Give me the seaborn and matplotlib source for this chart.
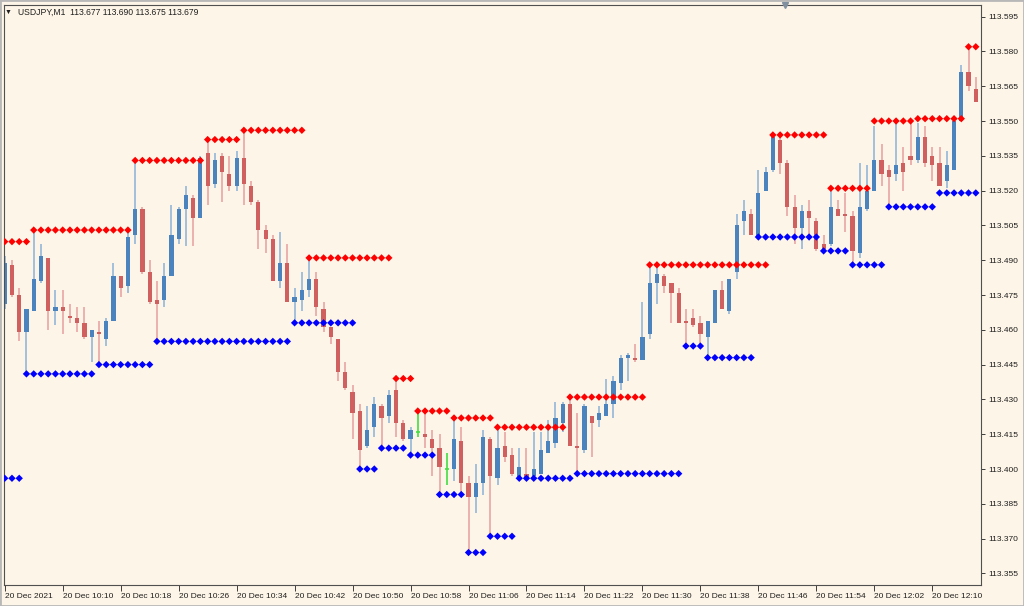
import numpy as np
import pandas as pd
import seaborn as sns
import matplotlib.pyplot as plt
from matplotlib.patches import Rectangle

sns.set_style("white")
plt.rcParams['font.family'] = ['Liberation Sans', 'DejaVu Sans']

# === USDJPY M1 candles, 20 Dec 2021 from 10:02 ===
open_ = [113.471, 113.488, 113.475, 113.459, 113.468, 113.481, 113.491, 113.468, 113.470, 113.466,
         113.465, 113.463, 113.457, 113.459, 113.456, 113.464, 113.483, 113.479, 113.501, 113.512,
         113.485, 113.473, 113.473, 113.483, 113.499, 113.512, 113.517, 113.508, 113.536, 113.523,
         113.535, 113.527, 113.522, 113.534, 113.522, 113.515, 113.503, 113.499, 113.481, 113.489,
         113.472, 113.473, 113.477, 113.482, 113.469, 113.461, 113.456, 113.442, 113.433, 113.425,
         113.410, 113.418, 113.427, 113.423, 113.434, 113.420, 113.413, 113.416, 113.415, 113.413,
         113.409, 113.400, 113.400, 113.412, 113.394, 113.388, 113.394, 113.413, 113.396, 113.410,
         113.406, 113.396, 113.398, 113.397, 113.398, 113.407, 113.411, 113.420, 113.428, 113.410,
         113.408, 113.423, 113.421, 113.423, 113.428, 113.437, 113.448, 113.448, 113.447, 113.458,
         113.480, 113.483, 113.480, 113.476, 113.464, 113.465, 113.463, 113.457, 113.463, 113.477,
         113.468, 113.485, 113.507, 113.510, 113.500, 113.520, 113.529, 113.542, 113.532, 113.513,
         113.504, 113.511, 113.507, 113.497, 113.497, 113.512, 113.510, 113.509, 113.493, 113.512,
         113.520, 113.533, 113.529, 113.527, 113.532, 113.535, 113.533, 113.543, 113.535, 113.532,
         113.524, 113.529, 113.550, 113.571, 113.564]
high = [113.492, 113.490, 113.478, 113.469, 113.503, 113.497, 113.491, 113.477, 113.477, 113.471,
        113.470, 113.470, 113.460, 113.464, 113.465, 113.489, 113.483, 113.502, 113.533, 113.513,
        113.490, 113.481, 113.489, 113.514, 113.513, 113.522, 113.518, 113.535, 113.542, 113.536,
        113.536, 113.535, 113.537, 113.546, 113.524, 113.516, 113.505, 113.501, 113.502, 113.497,
        113.478, 113.485, 113.491, 113.485, 113.472, 113.461, 113.456, 113.446, 113.436, 113.428,
        113.427, 113.431, 113.428, 113.434, 113.439, 113.421, 113.418, 113.425, 113.424, 113.417,
        113.415, 113.407, 113.422, 113.418, 113.397, 113.402, 113.417, 113.414, 113.418, 113.416,
        113.409, 113.409, 113.409, 113.416, 113.416, 113.421, 113.429, 113.429, 113.431, 113.424,
        113.428, 113.423, 113.427, 113.439, 113.440, 113.449, 113.450, 113.454, 113.472, 113.488,
        113.487, 113.484, 113.480, 113.478, 113.469, 113.469, 113.466, 113.464, 113.477, 113.481,
        113.482, 113.510, 113.516, 113.512, 113.529, 113.530, 113.544, 113.543, 113.533, 113.518,
        113.514, 113.516, 113.508, 113.501, 113.521, 113.516, 113.519, 113.511, 113.532, 113.531,
        113.548, 113.540, 113.531, 113.550, 113.539, 113.550, 113.549, 113.548, 113.539, 113.539,
        113.537, 113.552, 113.574, 113.582, 113.569]
low = [113.469, 113.474, 113.455, 113.441, 113.468, 113.480, 113.460, 113.462, 113.458, 113.463,
       113.459, 113.456, 113.446, 113.445, 113.453, 113.464, 113.474, 113.476, 113.497, 113.484,
       113.471, 113.455, 113.470, 113.483, 113.497, 113.496, 113.496, 113.508, 113.514, 113.521,
       113.515, 113.520, 113.520, 113.514, 113.514, 113.495, 113.493, 113.481, 113.478, 113.472,
       113.463, 113.468, 113.474, 113.466, 113.459, 113.454, 113.438, 113.434, 113.413, 113.400,
       113.409, 113.414, 113.410, 113.420, 113.414, 113.412, 113.406, 113.414, 113.409, 113.397,
       113.389, 113.393, 113.395, 113.390, 113.364, 113.381, 113.389, 113.371, 113.393, 113.403,
       113.397, 113.396, 113.396, 113.396, 113.398, 113.407, 113.409, 113.416, 113.410, 113.398,
       113.407, 113.405, 113.418, 113.423, 113.422, 113.434, 113.438, 113.446, 113.447, 113.456,
       113.471, 113.476, 113.463, 113.463, 113.453, 113.461, 113.453, 113.448, 113.463, 113.469,
       113.467, 113.482, 113.501, 113.501, 113.500, 113.520, 113.528, 113.527, 113.509, 113.497,
       113.495, 113.500, 113.494, 113.494, 113.496, 113.509, 113.502, 113.488, 113.491, 113.511,
       113.520, 113.522, 113.513, 113.524, 113.520, 113.531, 113.532, 113.530, 113.524, 113.522,
       113.521, 113.529, 113.550, 113.563, 113.558]
close = [113.489, 113.475, 113.459, 113.469, 113.482, 113.492, 113.468, 113.470, 113.468, 113.465,
         113.463, 113.457, 113.460, 113.458, 113.464, 113.483, 113.478, 113.500, 113.512, 113.485,
         113.472, 113.471, 113.483, 113.501, 113.512, 113.518, 113.508, 113.534, 113.522, 113.533,
         113.528, 113.522, 113.534, 113.523, 113.515, 113.503, 113.499, 113.481, 113.489, 113.472,
         113.474, 113.477, 113.482, 113.470, 113.461, 113.457, 113.442, 113.435, 113.424, 113.408,
         113.417, 113.428, 113.422, 113.432, 113.420, 113.413, 113.417, 113.416, 113.414, 113.409,
         113.401, 113.400, 113.413, 113.394, 113.388, 113.394, 113.414, 113.397, 113.409, 113.405,
         113.398, 113.401, 113.396, 113.400, 113.408, 113.412, 113.422, 113.428, 113.410, 113.409,
         113.427, 113.420, 113.424, 113.428, 113.438, 113.448, 113.449, 113.447, 113.457, 113.480,
         113.484, 113.479, 113.476, 113.463, 113.463, 113.462, 113.458, 113.464, 113.477, 113.469,
         113.482, 113.505, 113.511, 113.501, 113.519, 113.528, 113.543, 113.532, 113.513, 113.504,
         113.511, 113.508, 113.495, 113.495, 113.513, 113.509, 113.509, 113.494, 113.513, 113.520,
         113.533, 113.527, 113.526, 113.531, 113.528, 113.533, 113.543, 113.532, 113.531, 113.522,
         113.531, 113.550, 113.571, 113.565, 113.558]

# resistance (red) and support (blue) dotted levels: first bar, last bar, price
res_start = [0, 4, 18, 28, 33, 42, 54, 57, 62, 68, 78, 89, 106, 114, 120, 126, 133]
res_end = [3, 17, 27, 32, 41, 53, 56, 61, 67, 77, 88, 105, 113, 119, 125, 132, 134]
res_price = [113.498, 113.503, 113.533, 113.542, 113.546, 113.491, 113.439, 113.425, 113.422,
             113.418, 113.431, 113.488, 113.544, 113.521, 113.550, 113.551, 113.582]
sup_start = [0, 3, 13, 21, 40, 49, 52, 56, 60, 64, 67, 71, 79, 94, 97, 104, 113, 117, 122, 129]
sup_end = [2, 12, 20, 39, 48, 51, 55, 59, 63, 66, 70, 78, 93, 96, 103, 112, 116, 121, 128, 134]
sup_price = [113.396, 113.441, 113.445, 113.455, 113.463, 113.400, 113.409, 113.406, 113.389,
             113.364, 113.371, 113.396, 113.398, 113.453, 113.448, 113.500, 113.494, 113.488,
             113.513, 113.519]

price_ticks = [113.355, 113.370, 113.385, 113.400, 113.415, 113.430, 113.445, 113.460, 113.475,
               113.490, 113.505, 113.520, 113.535, 113.550, 113.565, 113.580, 113.595]
time_labels = ["20 Dec 2021", "20 Dec 10:10", "20 Dec 10:18", "20 Dec 10:26", "20 Dec 10:34",
               "20 Dec 10:42", "20 Dec 10:50", "20 Dec 10:58", "20 Dec 11:06", "20 Dec 11:14",
               "20 Dec 11:22", "20 Dec 11:30", "20 Dec 11:38", "20 Dec 11:46", "20 Dec 11:54",
               "20 Dec 12:02", "20 Dec 12:10"]
header = "USDJPY,M1  113.677 113.690 113.675 113.679"

bg = '#fdf5e7'
bull, bear, doji = '#4a83bd', '#d05f5f', '#44dd44'
bull_wick, bear_wick = '#93b6d8', '#e9a5a5'

df = pd.DataFrame({'open': open_, 'high': high, 'low': low, 'close': close})
df['bar'] = np.arange(len(df))
df['time'] = pd.date_range("2021-12-20 10:02", periods=len(df), freq="min")
up = df['close'] > df['open']
down = df['close'] < df['open']
flat = ~(up | down)

rows = []
for s, e, p in zip(res_start, res_end, res_price):
    rows += [{'bar': b, 'price': p, 'kind': 'res'} for b in range(s, e + 1)]
for s, e, p in zip(sup_start, sup_end, sup_price):
    rows += [{'bar': b, 'price': p, 'kind': 'sup'} for b in range(s, e + 1)]
levels = pd.DataFrame(rows)

fig = plt.figure(figsize=(10.24, 6.06), dpi=100, facecolor=bg)
ax = fig.add_axes([4 / 1024, 21 / 606, 977 / 1024, 580 / 606])
ax.set_facecolor(bg)

# wicks
wick_col = np.where(up, bull_wick, np.where(down, bear_wick, doji))
ax.vlines(df['bar'], df['low'], df['high'], colors=wick_col, linewidth=1.2, zorder=1)

# bodies
body_h = (df['close'] - df['open']).abs()
body_h = np.where(flat, 0, np.maximum(body_h, 0.0006))
body_col = np.where(up, bull, np.where(down, bear, doji))
ax.bar(df['bar'], body_h, bottom=df[['open', 'close']].min(axis=1), width=0.58,
       color=body_col, linewidth=0, zorder=2)
ax.hlines(df.loc[flat, 'open'], df.loc[flat, 'bar'] - 0.3, df.loc[flat, 'bar'] + 0.3,
          colors=doji, linewidth=1.2, zorder=2)

# level dots
sns.scatterplot(data=levels, x='bar', y='price', hue='kind',
                palette={'res': '#ff0000', 'sup': '#0000ff'}, marker='D', s=14,
                linewidth=0, legend=False, ax=ax, zorder=3)

ax.set_xlim(-0.1, 134.72)
ax.set_ylim(113.350, 113.600)
ax.set_xlabel('')
ax.set_ylabel('')

ax.yaxis.tick_right()
ax.set_yticks(price_ticks)
ax.set_yticklabels([f"{p:.3f}" for p in price_ticks])
tick_bars = df['bar'][::8][:len(time_labels)]
ax.set_xticks(tick_bars)
ax.set_xticklabels(time_labels, ha='left')
ax.tick_params(axis='y', right=True, left=False, length=3, width=0.6, labelsize=6, pad=2,
               colors='#202020')
ax.tick_params(axis='x', bottom=True, length=4, width=0.6, labelsize=6, pad=2,
               colors='#202020')
for sp in ax.spines.values():
    sp.set_color('#505050')
    sp.set_linewidth(0.8)
ax.grid(False)

# chart shift marker at the top
ax.plot([0.799], [1.0], marker='v', color='#8090a0', markersize=5, transform=ax.transAxes,
        clip_on=False, zorder=5)

fig.text(5 / 1024, 1 - 12 / 606, '\u25bc', fontsize=5, va='center', color='#202020')
fig.text(18 / 1024, 1 - 12 / 606, header, fontsize=6.2, va='center', color='#202020')
fig.patches.append(Rectangle((0, 0), 1, 1, transform=fig.transFigure, fill=False,
                             edgecolor='#b8b8b8', linewidth=2))

fig.savefig('out.png', dpi=100, facecolor=bg)
